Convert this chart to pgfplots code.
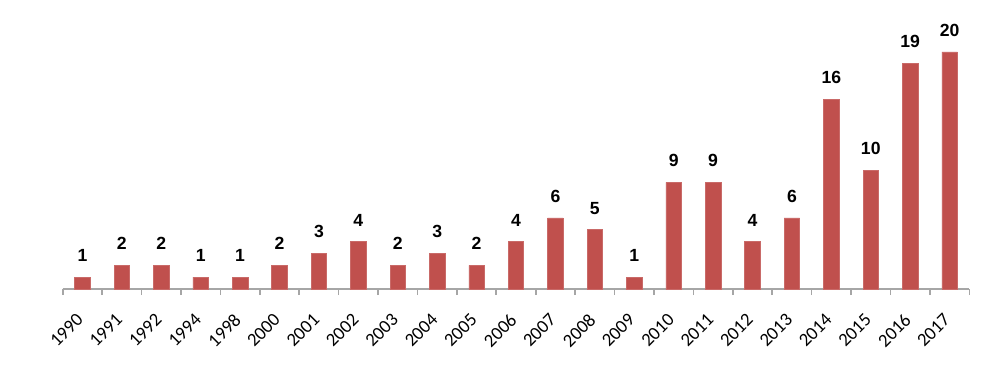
\documentclass[border=0pt]{standalone}
\usepackage{fontspec}
\setmainfont{Carlito}
\newfontfamily\labfont{Liberation Sans}
\usepackage{pgfplots}
\pgfplotsset{compat=1.18}
\definecolor{barred}{HTML}{C0504D}
\definecolor{axgray}{HTML}{A6A6A6}
\begin{document}
\begin{tikzpicture}
\begin{axis}[
  scale only axis,
  width=453.3pt, height=118.6pt,
  xmin=-0.5, xmax=22.5, ymin=0, ymax=20,
  clip=false,
  axis x line*=bottom,
  axis y line=none,
  x axis line style={draw=axgray, line width=0.8pt},
  xtick={0,...,22},
  xticklabels={1990,1991,1992,1994,1998,2000,2001,2002,2003,2004,2005,2006,2007,2008,2009,2010,2011,2012,2013,2014,2015,2016,2017},
  major tick length=0pt,
  minor xtick={-0.5,0.5,...,22.5},
  minor tick length=3pt,
  tick align=outside,
  minor tick style={draw=axgray, line width=0.8pt},
  x tick label style={xshift=-3.5pt, yshift=-11.5pt, rotate=45, anchor=north east, font=\fontsize{9.3}{10}\selectfont, inner sep=0pt},
  ybar, bar width=7.75pt,
  nodes near coords={\pgfmathprintnumber[assume math mode=true]{\pgfplotspointmeta}},
  every node near coord/.append style={anchor=south, inner sep=0pt, yshift=7.6pt, font=\labfont\bfseries\fontsize{8.8}{10}\selectfont, text=black},
]
\addplot[fill=barred, draw=barred!85!white, line width=0.3pt] coordinates {
(0,1) (1,2) (2,2) (3,1) (4,1) (5,2) (6,3) (7,4) (8,2) (9,3) (10,2) (11,4)
(12,6) (13,5) (14,1) (15,9) (16,9) (17,4) (18,6) (19,16) (20,10) (21,19) (22,20)};
\end{axis}
\pgfresetboundingbox
\path[use as bounding box] (-31.35pt,-45.5pt) rectangle (468.65pt,144.5pt);
\end{tikzpicture}
\end{document}
